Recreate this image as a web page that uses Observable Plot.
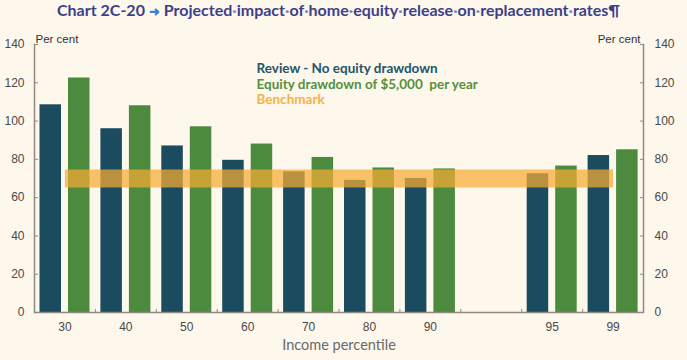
<!DOCTYPE html>
<html><head><meta charset="utf-8">
<script src="https://cdn.jsdelivr.net/npm/d3@7"></script>
<script src="https://cdn.jsdelivr.net/npm/@observablehq/plot@0.6"></script>
<style>
html,body{margin:0;padding:0;background:#fdf7ec;}
body{width:687px;height:360px;overflow:hidden;}
#title{height:26px;line-height:27px;font:bold 16px Lato,sans-serif;color:#3d3f8a;white-space:nowrap;padding-left:57px;}
#title .arrow{color:#3b7fd6;font-size:13px;}
#title .dot{color:#8a8aa8;}
</style></head><body>
<div id="title"></div>
<div id="chart"></div>
<script>
// ---- data ----
const slots = ["30","40","50","60","70","80","90","gap","95","99"];
const categories = ["30","40","50","60","70","80","90","95","99"];
const reviewValues = [108.5, 96, 87, 79.5, 73.5, 69, 70, 72.5, 82];
const equityValues = [122.5, 108, 97, 88, 81, 75.5, 75, 76.5, 85];
const benchmarkSpan = ["30","99"];
const benchmarkValue = 70;
const yTicks = [0,20,40,60,80,100,120,140];
const seriesNames = ["Review - No equity drawdown", "Equity drawdown of $5,000  per year", "Benchmark"];
const titleParts = ["Chart 2C-20", "Projected impact of home equity release on replacement rates"];

// ---- title ----
const t = document.getElementById("title");
t.innerHTML = titleParts[0] + " <span class='arrow'>&#10140;</span> " +
  titleParts[1].split(" ").join("<span class='dot'>·</span>") + "¶";

const blue = "#1b4b5e", green = "#4c8a3d", orange = "#f7ac33";
const axisGray = "#8e8b82", textGray = "#4a4a4a";
const fontAx = "Liberation Sans, Arial, sans-serif";

const plot = Plot.plot({
  width: 687,
  height: 334,
  marginTop: 18,
  marginBottom: 48,
  marginLeft: 34,
  marginRight: 44,
  style: {background: "transparent", fontFamily: fontAx, fontSize: "12px", color: textGray},
  x: {type: "band", domain: slots, padding: 0, round: false, axis: null},
  y: {domain: [0, 140], axis: null},
  marks: [
    Plot.barY(reviewValues, {x: categories, y: reviewValues, fill: blue, insetLeft: 5.5, insetRight: 33.9}),
    Plot.barY(equityValues, {x: categories, y: equityValues, fill: green, insetLeft: 34, insetRight: 5.4}),
    Plot.lineY(benchmarkSpan, {x: benchmarkSpan, y: benchmarkSpan.map(() => benchmarkValue), stroke: orange, strokeWidth: 18, strokeOpacity: 0.72, strokeLinecap: "butt"}),
    // axis lines
    Plot.ruleY([0], {stroke: axisGray, strokeWidth: 1.5}),
    Plot.frame({anchor: "left", stroke: axisGray, strokeWidth: 1.5}),
    Plot.frame({anchor: "right", stroke: axisGray, strokeWidth: 1.5}),
    // y ticks (inward) and labels
    Plot.axisY(yTicks, {anchor: "left", tickSize: -4, fill: "none", stroke: axisGray, label: null}),
    Plot.axisY(yTicks, {anchor: "left", tickSize: 0, tickPadding: 10, fill: textGray, label: null}),
    Plot.axisY(yTicks, {anchor: "right", tickSize: -4, fill: "none", stroke: axisGray, label: null}),
    Plot.axisY(yTicks, {anchor: "right", tickSize: 0, tickPadding: 11, fill: textGray, label: null}),
    // x labels and boundary ticks
    Plot.axisX(slots, {tickSize: 0, tickPadding: 10, tickFormat: d => d === "gap" ? "" : d, fill: textGray, label: null}),
    Plot.axisX(slots.slice(1), {tickSize: -3, fill: "none", stroke: axisGray, dx: -30.45, label: null}),
    Plot.text(["Income percentile"], {frameAnchor: "bottom", dy: 33, lineAnchor: "middle", fill: "#6a6a6a", fontSize: 14.5, fontFamily: "Lato"}),
    Plot.text(["Per cent"], {frameAnchor: "top-left", dx: 1, dy: -10, textAnchor: "start", fill: "#333", fontSize: 11.5}),
    Plot.text(["Per cent"], {frameAnchor: "top-right", dx: -3, dy: -10, textAnchor: "end", fill: "#333", fontSize: 11.5}),
    // legend
    Plot.text([seriesNames[0]], {frameAnchor: "top-left", dx: 222, dy: 19, textAnchor: "start", fill: "#265468", fontWeight: "bold", fontSize: 13.5, fontFamily: "Lato"}),
    Plot.text([seriesNames[1]], {frameAnchor: "top-left", dx: 222, dy: 35, textAnchor: "start", fill: "#56903f", fontWeight: "bold", fontSize: 13.5, fontFamily: "Lato"}),
    Plot.text([seriesNames[2]], {frameAnchor: "top-left", dx: 222, dy: 50, textAnchor: "start", fill: "#f3b24a", fontWeight: "bold", fontSize: 13.5, fontFamily: "Lato"})
  ]
});
document.getElementById("chart").appendChild(plot);
</script>
</body></html>
